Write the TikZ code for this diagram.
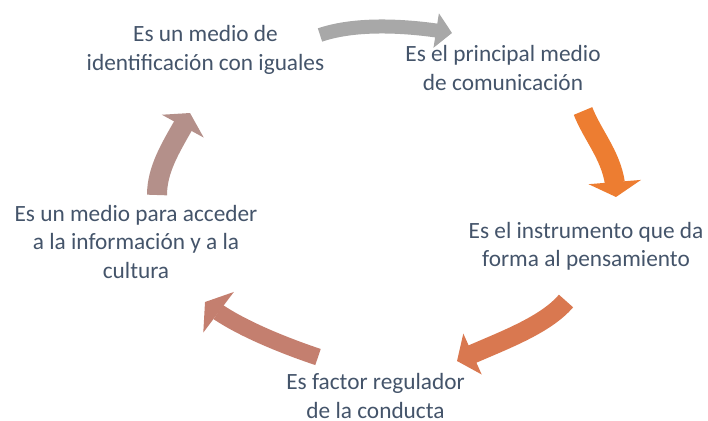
\documentclass[tikz,border=0pt]{standalone}
\usepackage{fontspec}
\setmainfont{Carlito}
\usetikzlibrary{arrows.meta,bending}
\definecolor{txt}{HTML}{44546A}
\definecolor{cA}{HTML}{A8A8A8}
\definecolor{cB}{HTML}{ED7D31}
\definecolor{cC}{HTML}{D97850}
\definecolor{cD}{HTML}{C47F6F}
\definecolor{cE}{HTML}{B4908A}
\tikzset{
  lbl/.style={align=center, anchor=base, inner sep=0pt, text=txt,
    font=\fontsize{23.3}{28.4}\selectfont},
  blockarrow/.style n args={4}{draw=#1, line width=#2pt,
    -{Triangle[width=#3pt, length=#4pt, flex]}},
}
\begin{document}
\begin{tikzpicture}[x=1pt, y=-1pt]
\useasboundingbox (0,0) rectangle (708,420);
% labels (base = baseline of last line)
\node[lbl] (t1) at (205.5,70) {Es un medio de\\identificación con iguales};
\node[lbl] (t2) at (503,90) {Es el principal medio\\de comunicación};
\node[lbl] (t3) at (586,266.7) {Es el instrumento que da\\forma al pensamiento};
\node[lbl] (t4) at (375.5,418.3) {Es factor regulador\\de la conducta};
\node[lbl] (t5) at (136,278.3) {Es un medio para acceder\\a la información y a la\\cultura};
% arrow end points
\coordinate (a1s) at (320,35);  \coordinate (a1e) at (452,33);
\coordinate (a2s) at (583,111); \coordinate (a2e) at (616,197);
\coordinate (a3s) at (566,301); \coordinate (a3e) at (457,361);
\coordinate (a4s) at (318,357); \coordinate (a4e) at (205,302);
\coordinate (a5s) at (157,195); \coordinate (a5e) at (190,113);
% arrows
\draw[blockarrow={cA}{14}{34}{16}] (a1s) .. controls (358,22) and (412,26) .. (a1e);
\draw[blockarrow={cB}{20}{52}{15}] (a2s) .. controls (594,139) and (616,160) .. (a2e);
\draw[blockarrow={cC}{19}{44}{17}] (a3s) .. controls (543,328) and (493,344) .. (a3e);
\draw[blockarrow={cD}{17}{50}{17}] (a4s) .. controls (285,346) and (231,325) .. (a4e);
\draw[blockarrow={cE}{20}{47}{15}] (a5s) .. controls (157,165) and (176,140) .. (a5e);
\end{tikzpicture}
\end{document}
